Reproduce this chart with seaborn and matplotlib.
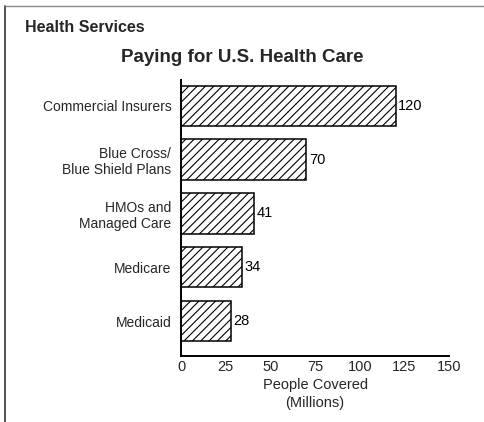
import matplotlib
matplotlib.use("Agg")
import matplotlib.pyplot as plt
import seaborn as sns
import pandas as pd
from matplotlib.lines import Line2D

# Chart data
categories = ["Commercial Insurers", "Blue Cross/\nBlue Shield Plans", "HMOs and\nManaged Care",
              "Medicare", "Medicaid"]
people_millions = [120, 70, 41, 34, 28]
x_ticks = [0, 25, 50, 75, 100, 125, 150]

df = pd.DataFrame({"category": categories, "people": people_millions})

sns.set_style("white")
plt.rcParams['font.family'] = ['Liberation Sans', 'DejaVu Sans']
plt.rcParams['hatch.linewidth'] = 0.8

fig = plt.figure(figsize=(4.84, 4.22), dpi=100)
ax = fig.add_axes([0.374, 0.1564, 0.554, 0.654])

sns.barplot(data=df, x="people", y="category", orient="h", width=0.75,
            color="white", edgecolor="black", linewidth=1.1, hatch="////", ax=ax)

for i, v in enumerate(people_millions):
    ax.text(v + 1.5, i, str(v), va="center", ha="left", fontsize=10.5, color="black")

ax.set_xlim(0, 150)
ax.set_ylim(4.65, -0.48)
ax.set_xticks(x_ticks)
ax.set_xticklabels([str(t) for t in x_ticks], fontsize=10.5)
ax.tick_params(axis="x", direction="in", length=7, width=1.3, pad=3, color="black")
ax.tick_params(axis="y", length=0, pad=7, labelsize=10)
ax.set_ylabel("")
ax.set_xlabel("People Covered\n(Millions)", fontsize=10.5, labelpad=3, linespacing=1.35)

sns.despine(ax=ax, top=True, right=True)
for side in ["left", "bottom"]:
    ax.spines[side].set_color("black")
    ax.spines[side].set_linewidth(1.4)

# frame lines and headings
fig.add_artist(Line2D([5 / 484, 5 / 484], [0, 1 - 6 / 422], transform=fig.transFigure,
                      color="#333333", linewidth=1.2))
fig.add_artist(Line2D([5 / 484, 1], [1 - 6 / 422, 1 - 6 / 422], transform=fig.transFigure,
                      color="#888888", linewidth=1.0))
fig.text(25 / 484, 1 - 27 / 422, "Health Services", fontsize=11.5, fontweight="bold",
         ha="left", va="center")
fig.text(0.5, 1 - 57 / 422, "Paying for U.S. Health Care", fontsize=13.5, fontweight="bold",
         ha="center", va="center")

fig.savefig("out.png", dpi=100)
